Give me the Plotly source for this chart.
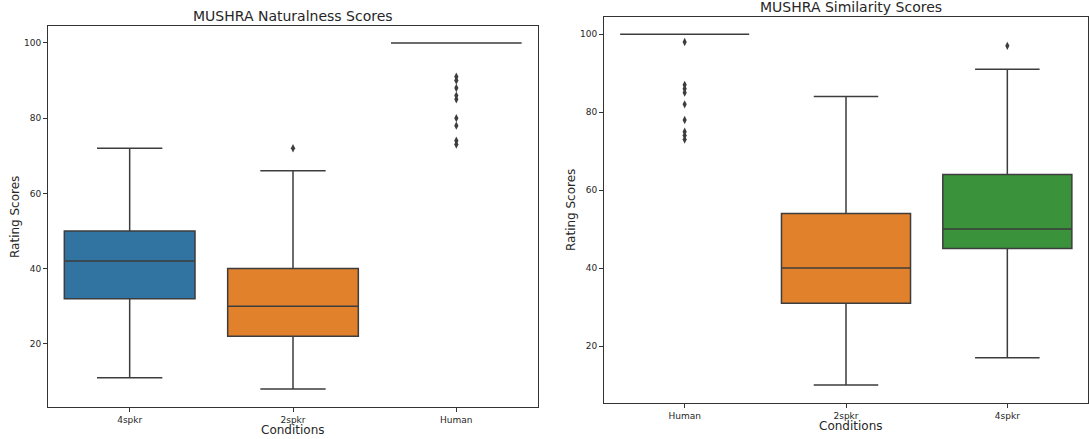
import plotly.graph_objects as go

# ---- Data ----
nat_categories = ["4spkr", "2spkr", "Human"]
nat_q1 = [32, 22, 100]
nat_median = [42, 30, 100]
nat_q3 = [50, 40, 100]
nat_low = [11, 8, 100]
nat_high = [72, 66, 100]
nat_outliers = {
    "4spkr": [],
    "2spkr": [72],
    "Human": [91, 90, 88, 86, 85, 80, 78, 74, 73],
}

sim_categories = ["Human", "2spkr", "4spkr"]
sim_q1 = [100, 31, 45]
sim_median = [100, 40, 50]
sim_q3 = [100, 54, 64]
sim_low = [100, 10, 17]
sim_high = [100, 84, 91]
sim_outliers = {
    "Human": [98, 87, 86, 85, 82, 78, 75, 74, 73],
    "2spkr": [],
    "4spkr": [97],
}

y_ticks = [20, 40, 60, 80, 100]
palette = ["#3274a1", "#e1812c", "#3a923a"]
line_col = "#3d3d3d"
FONT = "DejaVu Sans"

fig = go.Figure()


def add_panel(cats, q1, med, q3, lo, hi, outl, xa, ya):
    for i, c in enumerate(cats):
        fig.add_trace(go.Box(
            x=[c], q1=[q1[i]], median=[med[i]], q3=[q3[i]],
            lowerfence=[lo[i]], upperfence=[hi[i]],
            width=0.8, whiskerwidth=0.5,
            fillcolor=palette[i],
            line=dict(color=line_col, width=1.5),
            boxpoints=False, showlegend=False,
            xaxis=xa, yaxis=ya,
        ))
    ox, oy = [], []
    for c in cats:
        for v in outl[c]:
            ox.append(c)
            oy.append(v)
    fig.add_trace(go.Scatter(
        x=ox, y=oy, mode="markers",
        marker=dict(symbol="diamond-tall", size=6, color=line_col),
        showlegend=False, xaxis=xa, yaxis=ya,
    ))


add_panel(nat_categories, nat_q1, nat_median, nat_q3, nat_low, nat_high,
          nat_outliers, "x", "y")
add_panel(sim_categories, sim_q1, sim_median, sim_q3, sim_low, sim_high,
          sim_outliers, "x2", "y2")

W, H = 1089, 439
axis_common = dict(
    showline=True, mirror=True, linecolor="#333333", linewidth=1,
    ticks="outside", ticklen=4, tickcolor="#333333", tickwidth=1,
    showgrid=False, zeroline=False, automargin=False,
    tickfont=dict(family=FONT, size=9, color="#262626"),
)

fig.update_layout(
    width=W, height=H,
    margin=dict(l=0, r=0, t=0, b=0, pad=0, autoexpand=False),
    paper_bgcolor="white", plot_bgcolor="white",
    boxmode="overlay",
    font=dict(family=FONT),
    xaxis=dict(domain=[48 / W, 538 / W], anchor="y", type="category",
               categoryorder="array", categoryarray=nat_categories,
               range=[-0.5, 2.5], **axis_common),
    yaxis=dict(domain=[(H - 407) / H, (H - 26) / H], anchor="x",
               range=[3.2, 104.5], tickvals=y_ticks, **axis_common),
    xaxis2=dict(domain=[604 / W, 1088 / W], anchor="y2", type="category",
                categoryorder="array", categoryarray=sim_categories,
                range=[-0.5, 2.5], **axis_common),
    yaxis2=dict(domain=[(H - 403) / H, (H - 17) / H], anchor="x2",
                range=[5.4, 104.4], tickvals=y_ticks, **axis_common),
)

ann_font_title = dict(family=FONT, size=14, color="#262626")
ann_font_axis = dict(family=FONT, size=12, color="#262626")
annotations = [
    dict(text="MUSHRA Naturalness Scores", x=293 / W, y=(H - 16) / H,
         font=ann_font_title),
    dict(text="MUSHRA Similarity Scores", x=851 / W, y=(H - 7) / H,
         font=ann_font_title),
    dict(text="Conditions", x=293 / W, y=(H - 430) / H, font=ann_font_axis),
    dict(text="Conditions", x=851 / W, y=(H - 426) / H, font=ann_font_axis),
    dict(text="Rating Scores", x=15 / W, y=(H - 217) / H, textangle=-90,
         font=ann_font_axis),
    dict(text="Rating Scores", x=571 / W, y=(H - 210) / H, textangle=-90,
         font=ann_font_axis),
]
for a in annotations:
    a.update(xref="paper", yref="paper", showarrow=False,
             xanchor="center", yanchor="middle")
fig.update_layout(annotations=annotations)

fig.write_html(
    "out.html",
    config={"displayModeBar": False},
    post_script="document.body.style.margin='0';document.body.style.overflow='hidden';",
)
